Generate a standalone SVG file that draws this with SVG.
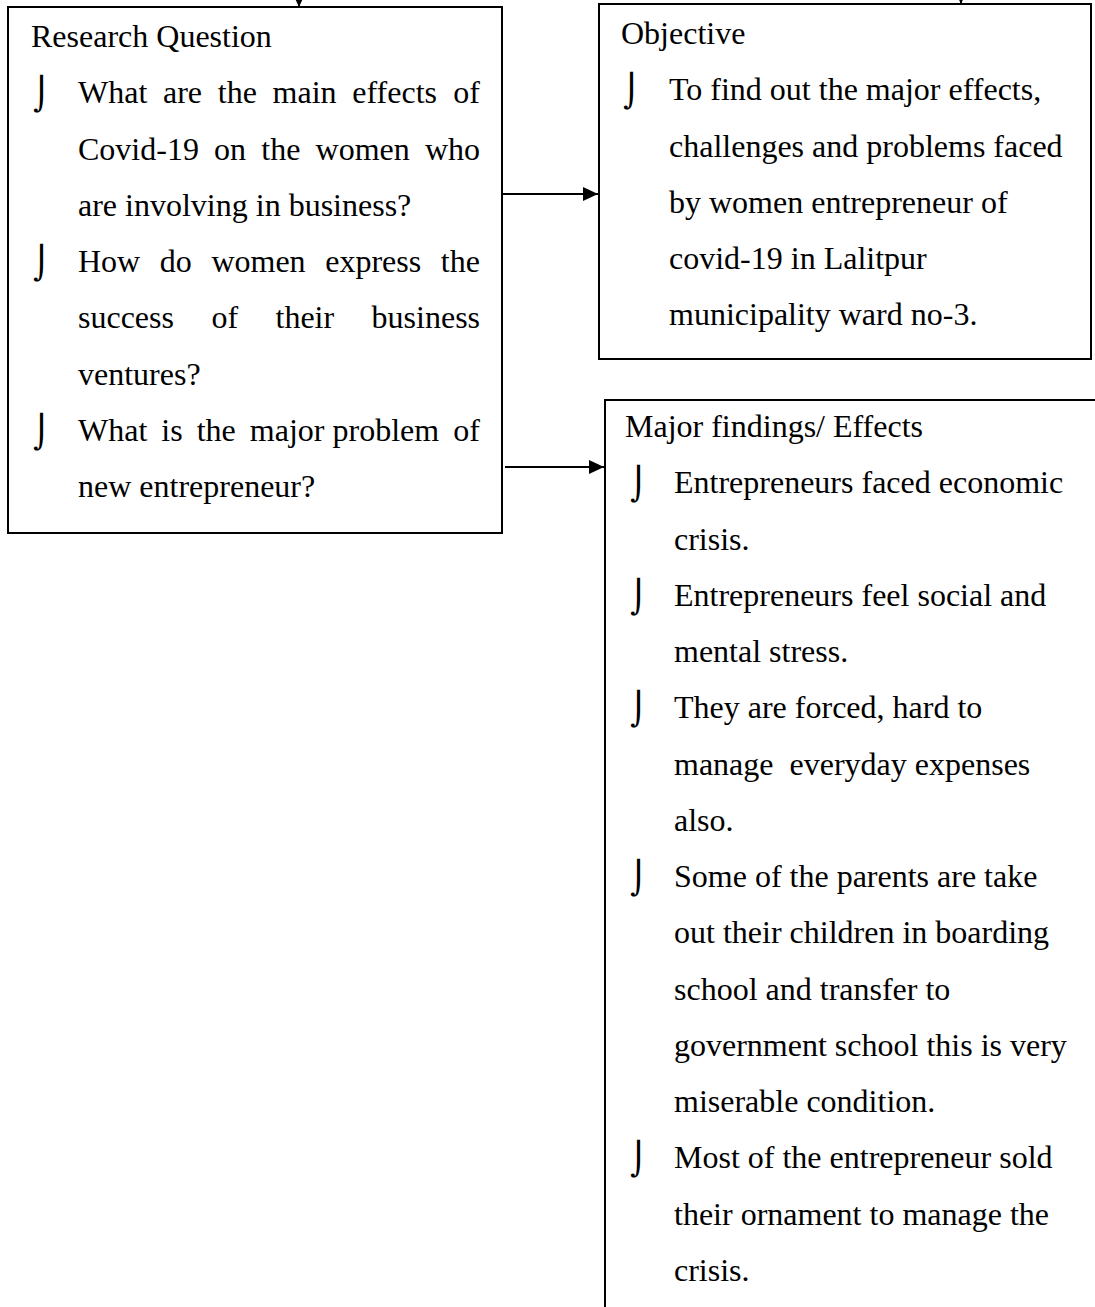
<svg xmlns="http://www.w3.org/2000/svg" width="1095" height="1307" viewBox="0 0 1095 1307">
<style>
.box{fill:#fff;stroke:#000;stroke-width:2}
.t{font-family:"Liberation Serif","Times New Roman",serif;font-size:32px;fill:#000}
.b{font-family:"DejaVu Sans",sans-serif;font-size:32px;fill:#000}
.c{stroke:#000;stroke-width:2;fill:none}
</style>
<defs>
<marker id="ah" markerUnits="userSpaceOnUse" markerWidth="15" markerHeight="14" refX="15" refY="7" orient="auto">
<path d="M0,0 L15,7 L0,14 z" fill="#000"/>
</marker>
</defs>
<rect width="1095" height="1307" fill="#fff"/>
<g id="research">
<rect class="box" x="8" y="7" width="494" height="526"/>
<text class="t" x="31" y="47">Research Question</text>
<text class="b" x="33" y="105">⌡</text>
<text class="t" y="103"><tspan x="78">What</tspan><tspan x="163">are</tspan><tspan x="217.8">the</tspan><tspan x="272.6">main</tspan><tspan x="352.3">effects</tspan><tspan x="453.3">of</tspan></text>
<text class="t" y="159.5"><tspan x="78">Covid-19</tspan><tspan x="214.1">on</tspan><tspan x="261.3">the</tspan><tspan x="315.6">women</tspan><tspan x="425">who</tspan></text>
<text class="t" x="78" y="215.75">are involving in business?</text>
<text class="b" x="33" y="274">⌡</text>
<text class="t" y="272"><tspan x="78">How</tspan><tspan x="159.8">do</tspan><tspan x="211.4">women</tspan><tspan x="325.2">express</tspan><tspan x="440.8">the</tspan></text>
<text class="t" y="328.25"><tspan x="78">success</tspan><tspan x="211.4">of</tspan><tspan x="275.5">their</tspan><tspan x="371.6">business</tspan></text>
<text class="t" x="78" y="384.5">ventures?</text>
<text class="b" x="33" y="442.75">⌡</text>
<text class="t" y="440.75"><tspan x="78">What</tspan><tspan x="161.35">is</tspan><tspan x="196.7">the</tspan><tspan x="249.85">major</tspan><tspan x="332.55">problem</tspan><tspan x="453.3">of</tspan></text>
<text class="t" x="78" y="497">new entrepreneur?</text>
</g>
<g id="objective">
<rect class="box" x="599" y="4" width="492" height="355"/>
<text class="t" x="621" y="44">Objective</text>
<text class="b" x="623" y="102.25">⌡</text>
<text class="t" x="669" y="100.25">To find out the major effects,</text>
<text class="t" x="669" y="156.5">challenges and problems faced</text>
<text class="t" x="669" y="212.75">by women entrepreneur of</text>
<text class="t" x="669" y="269">covid-19 in Lalitpur</text>
<text class="t" x="669" y="325.25">municipality ward no-3.</text>
</g>
<g id="findings">
<rect class="box" x="605" y="400" width="520" height="960"/>
<text class="t" x="625" y="437">Major findings/ Effects</text>
<text class="b" x="630" y="495.25">⌡</text>
<text class="t" x="674" y="493.25">Entrepreneurs faced economic</text>
<text class="t" x="674" y="549.5">crisis.</text>
<text class="b" x="630" y="607.75">⌡</text>
<text class="t" x="674" y="605.75">Entrepreneurs feel social and</text>
<text class="t" x="674" y="662">mental stress.</text>
<text class="b" x="630" y="720.25">⌡</text>
<text class="t" x="674" y="718.25">They are forced, hard to</text>
<text class="t" x="674" y="774.5" xml:space="preserve">manage  everyday expenses</text>
<text class="t" x="674" y="830.75">also.</text>
<text class="b" x="630" y="889">⌡</text>
<text class="t" x="674" y="887">Some of the parents are take</text>
<text class="t" x="674" y="943.25">out their children in boarding</text>
<text class="t" x="674" y="999.5">school and transfer to</text>
<text class="t" x="674" y="1055.75">government school this is very</text>
<text class="t" x="674" y="1112">miserable condition.</text>
<text class="b" x="630" y="1170.25">⌡</text>
<text class="t" x="674" y="1168.25">Most of the entrepreneur sold</text>
<text class="t" x="674" y="1224.5">their ornament to manage the</text>
<text class="t" x="674" y="1280.75">crisis.</text>
</g>
<g id="connectors">
<line class="c" x1="299" y1="-40" x2="299" y2="7" marker-end="url(#ah)"/>
<line class="c" x1="961" y1="-40" x2="961" y2="4" marker-end="url(#ah)"/>
<line class="c" x1="502" y1="194" x2="598" y2="194" marker-end="url(#ah)"/>
<line class="c" x1="505" y1="467" x2="604" y2="467" marker-end="url(#ah)"/>
</g>
</svg>
